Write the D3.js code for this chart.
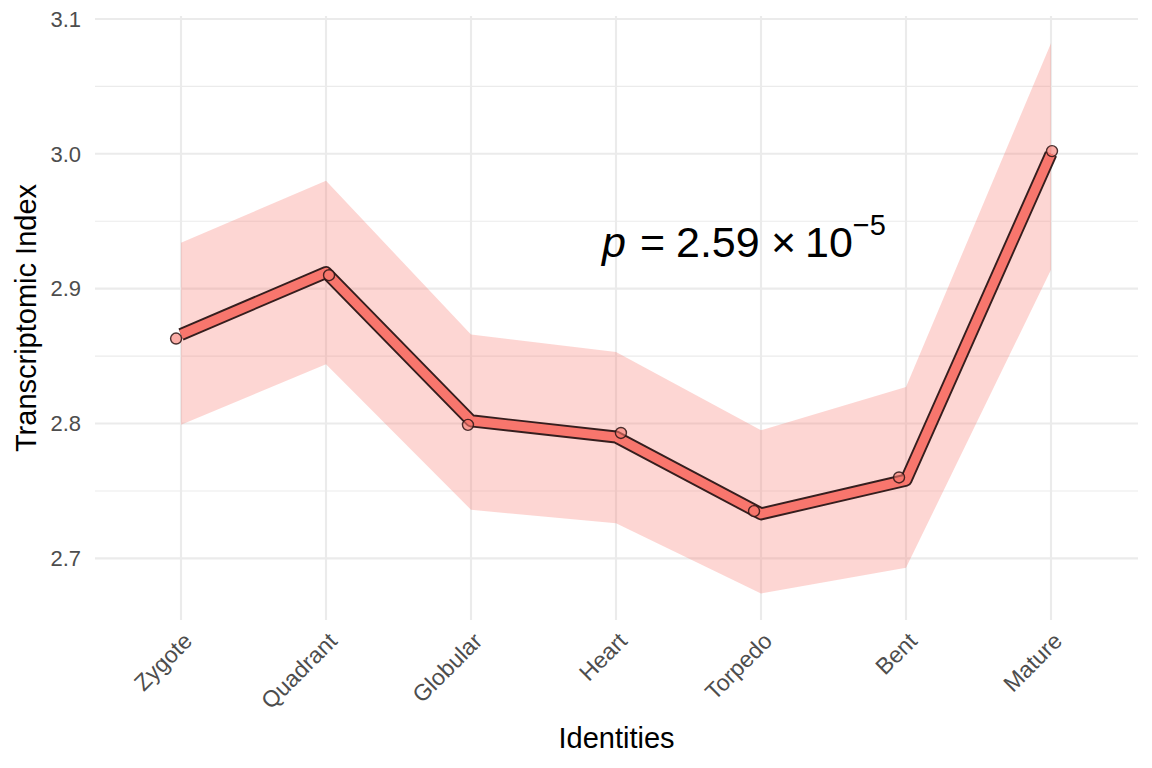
<!DOCTYPE html>
<html>
<head>
<meta charset="utf-8">
<script src="https://cdn.jsdelivr.net/npm/d3@7"></script>
<style>
  html, body { margin: 0; padding: 0; background: #fff; }
  svg { display: block; font-family: "Liberation Sans", Arial, Helvetica, sans-serif; }
</style>
</head>
<body>
<svg id="chart" width="1152" height="768"></svg>
<script>
// ---- data ----
const categories = ["Zygote", "Quadrant", "Globular", "Heart", "Torpedo", "Bent", "Mature"];
const lineValues  = [2.866, 2.912, 2.802, 2.790, 2.733, 2.758, 3.000];
const pointValues = [2.863, 2.910, 2.799, 2.793, 2.735, 2.760, 3.002];
const pointJitter = [-0.034, 0.021, -0.021, 0.034, -0.048, -0.048, 0.007]; // in category units
const ribbonUpper = [2.934, 2.980, 2.866, 2.853, 2.795, 2.827, 3.082];
const ribbonLower = [2.799, 2.844, 2.736, 2.726, 2.674, 2.693, 2.914];
const yTicks = [2.7, 2.8, 2.9, 3.0, 3.1];
const yMinor = [2.65, 2.75, 2.85, 2.95, 3.05];
const yDomain = [2.6543, 3.1022];

(function () {
// ---- layout ----
const svg = d3.select("#chart");
const pLeft = 95, pRight = 1138, pTop = 16, pBottom = 620;

const xBand = d3.scalePoint().domain(categories).range([181, 1051]);
const step = xBand.step();
const xPos = (i) => xBand(categories[0]) + i * step;
const y = d3.scaleLinear().domain(yDomain).range([pBottom, pTop]);

const red = "#F8766D";

// grid
const grid = svg.append("g");
grid.selectAll("line.minor").data(yMinor.filter(v => y(v) >= pTop && y(v) <= pBottom)).enter().append("line")
  .attr("x1", pLeft).attr("x2", pRight).attr("y1", d => y(d)).attr("y2", d => y(d))
  .attr("stroke", "#EBEBEB").attr("stroke-width", 1.1);
grid.selectAll("line.major").data(yTicks).enter().append("line")
  .attr("x1", pLeft).attr("x2", pRight).attr("y1", d => y(d)).attr("y2", d => y(d))
  .attr("stroke", "#EBEBEB").attr("stroke-width", 2.1);
grid.selectAll("line.vx").data(categories).enter().append("line")
  .attr("x1", d => xBand(d)).attr("x2", d => xBand(d)).attr("y1", pTop).attr("y2", pBottom)
  .attr("stroke", "#EBEBEB").attr("stroke-width", 2.1);

// ribbon
const area = d3.area()
  .x((d, i) => xPos(i))
  .y0((d, i) => y(ribbonLower[i]))
  .y1((d, i) => y(ribbonUpper[i]));
svg.append("path").datum(categories).attr("d", area)
  .attr("fill", red).attr("fill-opacity", 0.3);

// line
const line = d3.line().x((d, i) => xPos(i)).y(d => y(d));
svg.append("path").datum(lineValues).attr("d", line)
  .attr("fill", "none").attr("stroke", "#2a1414").attr("stroke-width", 13)
  .attr("stroke-linejoin", "round").attr("stroke-linecap", "butt").attr("stroke-opacity", 0.95);
svg.append("path").datum(lineValues).attr("d", line)
  .attr("fill", "none").attr("stroke", red).attr("stroke-width", 9.2)
  .attr("stroke-linejoin", "round").attr("stroke-linecap", "butt");

// points
svg.append("g").selectAll("circle").data(pointValues).enter().append("circle")
  .attr("cx", (d, i) => xPos(i + pointJitter[i]))
  .attr("cy", d => y(d))
  .attr("r", 5.5)
  .attr("fill", red).attr("fill-opacity", 0.6)
  .attr("stroke", "#2a1414").attr("stroke-width", 1.4).attr("stroke-opacity", 0.85);

// y tick labels
svg.append("g").selectAll("text").data(yTicks).enter().append("text")
  .attr("x", 81).attr("y", d => y(d)).attr("dy", "0.35em")
  .attr("text-anchor", "end").attr("font-size", 22).attr("fill", "#4D4D4D")
  .text(d => d.toFixed(1));

// x tick labels (rotated 45)
svg.append("g").selectAll("text").data(categories).enter().append("text")
  .attr("transform", d => `translate(${xBand(d) + 1},${631}) rotate(-45)`)
  .attr("text-anchor", "end").attr("dy", "0.71em")
  .attr("font-size", 23).attr("fill", "#4D4D4D")
  .text(d => d);

// axis titles
svg.append("text").attr("x", (pLeft + pRight) / 2).attr("y", 748)
  .attr("text-anchor", "middle").attr("font-size", 29).attr("fill", "#000")
  .text("Identities");
svg.append("text").attr("transform", `translate(36,${(pTop + pBottom) / 2}) rotate(-90)`)
  .attr("text-anchor", "middle").attr("font-size", 29).attr("fill", "#000")
  .text("Transcriptomic Index");

// annotation (plotmath-like spacing)
const ann = svg.append("text").attr("y", 257).attr("font-size", 43).attr("fill", "#000");
ann.append("tspan").attr("x", 602).attr("font-style", "italic").text("p");
ann.append("tspan").attr("x", 640).text("=");
ann.append("tspan").attr("x", 676).text("2.59");
ann.append("tspan").attr("x", 771).text("×");
ann.append("tspan").attr("x", 805).text("10");
ann.append("tspan").attr("font-size", 29).attr("dy", -22).text("−5");
})();
</script>
</body>
</html>
